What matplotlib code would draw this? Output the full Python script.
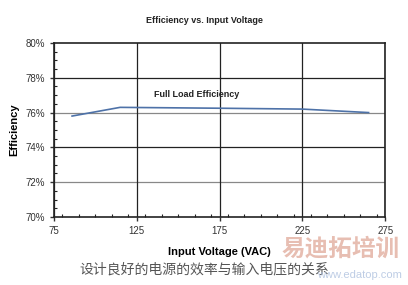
import matplotlib
matplotlib.use("Agg")
import matplotlib.pyplot as plt
from matplotlib.ticker import MultipleLocator, FuncFormatter

# data
volts = [86, 115, 175, 225, 265]
eff = [75.8, 76.3, 76.25, 76.2, 76.0]
xticks = [75, 125, 175, 225, 275]
yticks = [70, 72, 74, 76, 78, 80]

plt.rcParams['font.family'] = ['Liberation Sans', 'Noto Sans CJK SC', 'DejaVu Sans']

fig = plt.figure(figsize=(4.08, 2.85), dpi=100)
ax = fig.add_axes([0.132, 0.239, 0.812, 0.610])

ax.plot(volts, eff, color="#4e72a8", lw=1.2, zorder=3)
ax.set_xlim(75, 275); ax.set_ylim(70, 80)
ax.set_xticks(xticks); ax.set_yticks(yticks)
ax.xaxis.set_minor_locator(MultipleLocator(10))
ax.yaxis.set_minor_locator(MultipleLocator(0.5))
ax.yaxis.set_major_formatter(FuncFormatter(lambda v, _: f"{v:.0f}%"))
ax.grid(True, which="major", axis="x", color="#222222", lw=0.9)
# horizontal grid: alternating dark / grey as in the scan
for y in yticks[1:-1]:
    ax.axhline(y, color="#222222" if y in (74, 78) else "#888888", lw=0.9, zorder=1)
ax.tick_params(which="major", direction="out", length=3, width=1, labelsize=7, colors="#333333")
ax.tick_params(which="minor", direction="in", length=2.5, width=0.8, colors="#222222")
for s in ax.spines.values():
    s.set_color("#222222"); s.set_linewidth(1.2)

ax.text(161, 77.05, "Full Load Efficiency", fontsize=6.5, fontweight="bold", ha="center", va="center", color="#222222")
ax.set_xlabel("Input Voltage (VAC)", fontsize=8, fontweight="bold", labelpad=8)
ax.set_ylabel("Efficiency", fontsize=8, fontweight="bold", labelpad=4)
fig.text(0.5, 0.927, "Efficiency vs. Input Voltage", fontsize=6.5, fontweight="bold", ha="center", va="center", color="#222222")
fig.text(0.5, 0.053, "设计良好的电源的效率与输入电压的关系", fontsize=10, style="italic",
         family=['Noto Sans CJK SC', 'DejaVu Sans'], ha="center", va="center", color="#555555")
# watermark
fig.text(0.98, 0.128, "易迪拓培训", fontsize=17, fontweight="bold", family=['Noto Sans CJK SC', 'DejaVu Sans'],
         ha="right", va="center", color="#e0a898", alpha=0.75)
fig.text(0.985, 0.035, "www.edatop.com", fontsize=8, ha="right", va="center", color="#a8bcdc", alpha=0.75)

fig.savefig("out.png", dpi=100)
